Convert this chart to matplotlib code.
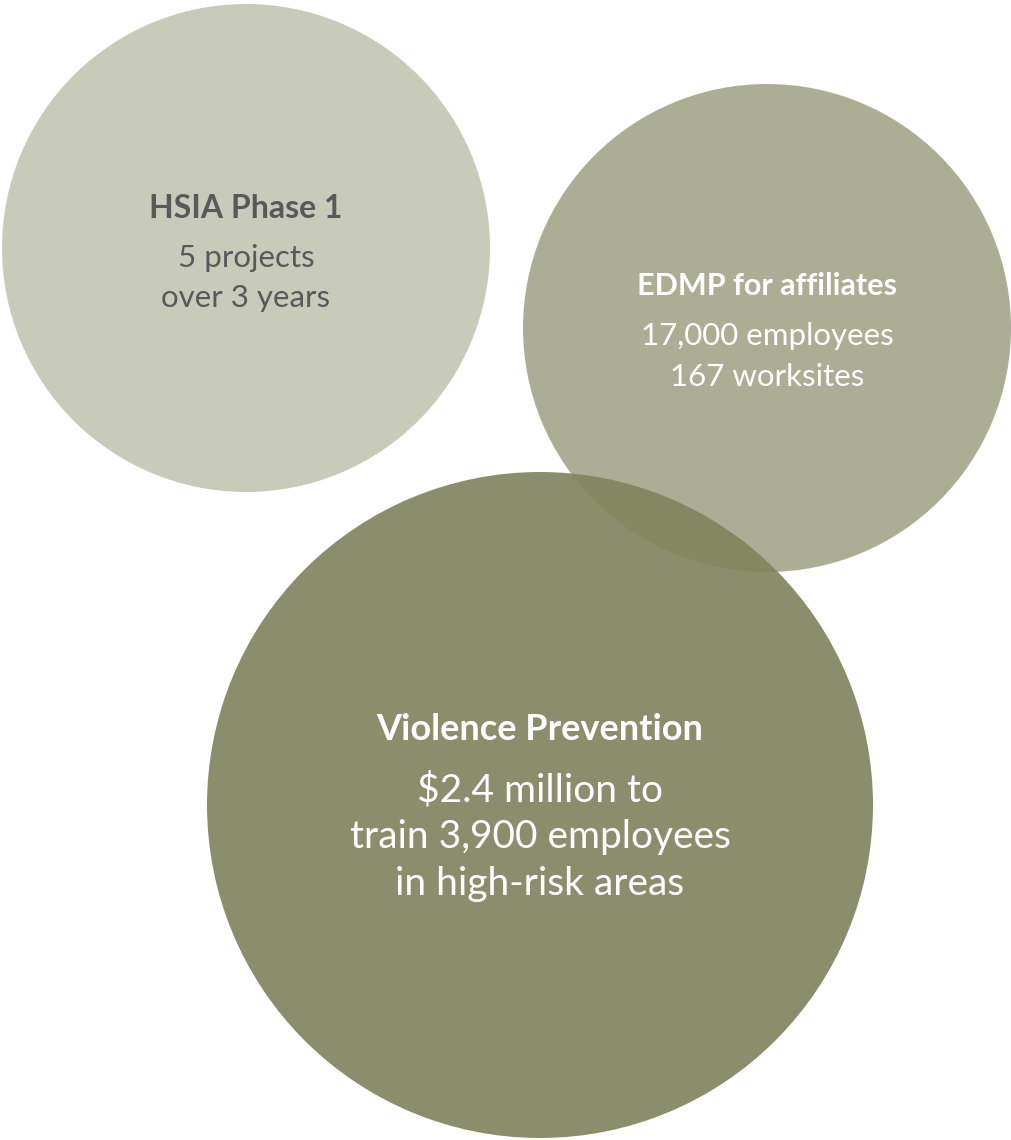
import matplotlib.pyplot as plt
from matplotlib.patches import Circle

titles = ['HSIA Phase 1', 'EDMP for affiliates', 'Violence Prevention']
details = [['5 projects', 'over 3 years'],
           ['17,000 employees', '167 worksites'],
           ['$2.4 million to', 'train 3,900 employees', 'in high-risk areas']]

# layout in pixel coords (y down)
centers = [(246, 248), (767, 328), (540, 805)]
radii = [244, 244, 333]
fills = ['#c8cbba', '#abae95', '#80855f']
alphas = [1.0, 1.0, 0.92]
text_colors = ['#595959', 'white', 'white']
title_y = [208, 286, 729]
title_size = [23, 22, 26]
body_size = [22.5, 22.5, 28]
line_gap = [40, 41, 47]
first_gap = [50, 50, 61]

fig = plt.figure(figsize=(10.12, 11.40), dpi=100)
ax = fig.add_axes([0, 0, 1, 1])
ax.set_xlim(0, 1012)
ax.set_ylim(1140, 0)
ax.set_aspect('equal')
ax.axis('off')

for i in range(len(titles)):
    ax.add_patch(Circle(centers[i], radii[i], facecolor=fills[i],
                        edgecolor='none', alpha=alphas[i], zorder=i + 1))
    cx = centers[i][0]
    ax.text(cx, title_y[i], titles[i], ha='center', va='center',
            fontsize=title_size[i], fontweight='bold', color=text_colors[i],
            family=['Lato', 'DejaVu Sans'], zorder=10)
    y0 = title_y[i] + first_gap[i]
    for j, line in enumerate(details[i]):
        ax.text(cx, y0 + j * line_gap[i], line, ha='center', va='center',
                fontsize=body_size[i], fontweight='normal', color=text_colors[i],
                family=['Lato', 'DejaVu Sans'], zorder=10)

fig.savefig('out.png', dpi=100)
